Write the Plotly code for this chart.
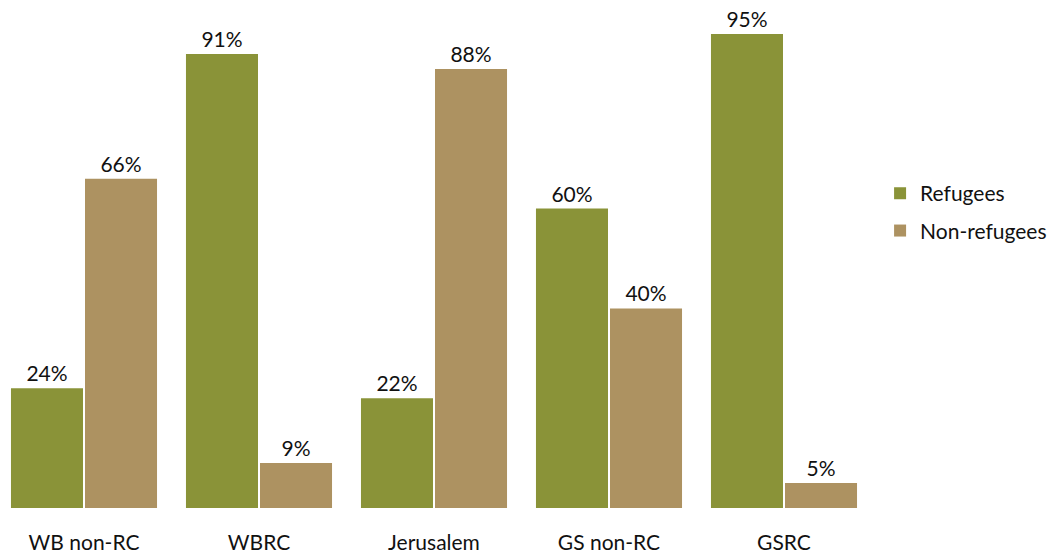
import plotly.graph_objects as go

categories = ["WB non-RC", "WBRC", "Jerusalem", "GS non-RC", "GSRC"]
refugees = [24, 91, 22, 60, 95]
non_refugees = [66, 9, 88, 40, 5]

GREEN = "#8a9338"
TAN = "#ad9261"
FONT = "Lato"


def make_bar(values, name, color):
    return go.Bar(
        x=categories,
        y=values,
        name=name,
        legendgroup=name,
        marker=dict(color=color, line=dict(width=0)),
        text=[str(v) + "%" for v in values],
        textposition="outside",
        textfont=dict(family=FONT, size=21, color="#111111"),
        cliponaxis=False,
    )


fig = go.Figure(data=[
    make_bar(refugees, "Refugees", GREEN),
    make_bar(non_refugees, "Non-refugees", TAN),
])

# the page puts the figure 8px in from the top-left corner
fig.update_layout(
    width=1053,
    height=545,
    margin=dict(l=0, r=173, t=1, b=45),
    paper_bgcolor="white",
    plot_bgcolor="white",
    barmode="group",
    bargap=0.154,
    bargroupgap=0.027,
    font=dict(family=FONT, size=21, color="#111111"),
    legend=dict(
        x=0.991, y=0.593, xanchor="left", yanchor="middle",
        font=dict(family=FONT, size=21, color="#111111"),
        traceorder="grouped",
        tracegroupgap=7,
    ),
    xaxis=dict(
        range=[-76 / 175, -76 / 175 + 880 / 175],
        showline=False,
        showgrid=False,
        ticks="outside",
        ticklen=16,
        tickcolor="rgba(0,0,0,0)",
        tickfont=dict(family=FONT, size=21, color="#111111"),
    ),
    yaxis=dict(
        range=[0, 100],
        visible=False,
    ),
)

fig.write_html("out.html")
